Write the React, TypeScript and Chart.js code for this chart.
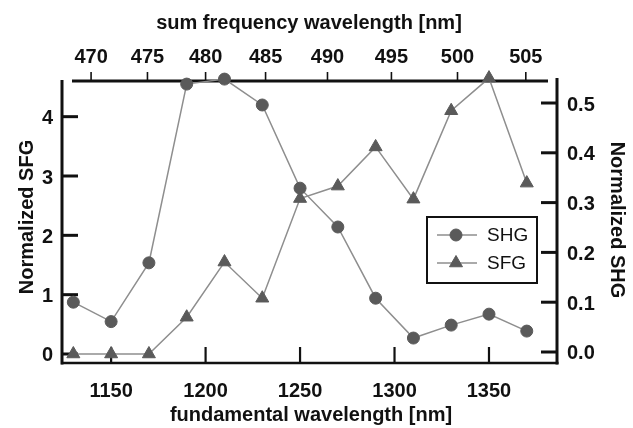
import React, { useEffect, useRef } from "react";
import { Chart, registerables } from "chart.js";

Chart.register(...registerables);

// ---- data ----
const fundamentalWavelengths = [1130, 1150, 1170, 1190, 1210, 1230, 1250, 1270, 1290, 1310, 1330, 1350, 1370];
const shgValues = [0.1, 0.061, 0.179, 0.538, 0.548, 0.496, 0.329, 0.251, 0.108, 0.028, 0.054, 0.076, 0.042];
const sfgValues = [0, 0, 0, 0.62, 1.55, 0.94, 2.62, 2.83, 3.49, 2.61, 4.1, 4.65, 2.88];
const bottomTickLabels = [1150, 1200, 1250, 1300, 1350];
const topTickLabels = [470, 475, 480, 485, 490, 495, 500, 505];
const leftTickLabels = [0, 1, 2, 3, 4];
const rightTickLabels = [0.0, 0.1, 0.2, 0.3, 0.4, 0.5];
const visibleWavelength = 800; // sum frequency: 1/λsf = 1/λf + 1/λvis

const seriesNames = ["SHG", "SFG"];
const xTitle = "fundamental wavelength [nm]";
const topTitle = "sum frequency wavelength [nm]";
const leftTitle = "Normalized SFG";
const rightTitle = "Normalized SHG";

const FONT = '"Liberation Sans", Arial, Helvetica, sans-serif';
const MARKER = "#5a5a5a";
const LINE = "#8e8e8e";
const INK = "#111111";

const fundamentalFromSum = (sf: number) => 1 / (1 / sf - 1 / visibleWavelength);

const axesPlugin = {
  id: "customAxes",
  beforeDatasetsDraw(chart: any) {
    const { ctx, chartArea: a, scales } = chart;
    const x = scales.x;
    const yL = scales.y;
    const yR = scales.y2;
    const seg = (x1: number, y1: number, x2: number, y2: number, w: number) => {
      ctx.beginPath();
      ctx.lineWidth = w;
      ctx.moveTo(x1, y1);
      ctx.lineTo(x2, y2);
      ctx.stroke();
    };
    ctx.save();
    ctx.strokeStyle = INK;
    ctx.fillStyle = INK;
    ctx.lineCap = "butt";
    // frame lines
    seg(a.left, a.top, a.left, a.bottom + 1.5, 3);
    seg(a.left - 1, a.bottom, a.right + 1.5, a.bottom, 2.5);
    seg(a.right, a.top - 2, a.right, a.bottom + 1.5, 3);
    // top axis line (offset)
    const topY = a.top + 1;
    seg(a.left + 10, topY, a.right - 9, topY, 3);

    // left ticks
    ctx.font = `bold 20px ${FONT}`;
    ctx.textBaseline = "alphabetic";
    ctx.textAlign = "right";
    leftTickLabels.forEach((v) => {
      const py = yL.getPixelForValue(v);
      seg(a.left, py, a.left + 16, py, 3);
      ctx.fillText(String(v), 53, py + 7.5);
    });
    // right ticks
    ctx.textAlign = "left";
    rightTickLabels.forEach((v) => {
      const py = yR.getPixelForValue(v);
      seg(a.right - 16, py, a.right, py, 3);
      ctx.fillText(v.toFixed(1), 567, py + 7.5);
    });
    // bottom ticks
    ctx.textAlign = "center";
    bottomTickLabels.forEach((v) => {
      const px = x.getPixelForValue(v);
      seg(px, a.bottom, px, a.bottom - 16, 2.2);
      ctx.fillText(String(v), px, 397);
    });
    // top ticks (nonlinear sum-frequency axis)
    topTickLabels.forEach((v) => {
      const px = x.getPixelForValue(fundamentalFromSum(v));
      seg(px, topY, px, topY - 9, 1.6);
      ctx.fillText(String(v), px, 63);
    });
    // titles
    ctx.fillText(xTitle, 311, 421);
    ctx.fillText(topTitle, 309, 29);
    ctx.save();
    ctx.translate(27, 217);
    ctx.rotate(-Math.PI / 2);
    ctx.textBaseline = "middle";
    ctx.fillText(leftTitle, 0, 0);
    ctx.restore();
    ctx.save();
    ctx.translate(617, 220);
    ctx.rotate(Math.PI / 2);
    ctx.textBaseline = "middle";
    ctx.fillText(rightTitle, 0, 0);
    ctx.restore();
    ctx.restore();
  },
  afterDraw(chart: any) {
    const { ctx } = chart;
    ctx.save();
    // legend box
    const bx = 427, by = 217, bw = 110, bh = 66;
    ctx.fillStyle = "#ffffff";
    ctx.fillRect(bx, by, bw, bh);
    ctx.strokeStyle = INK;
    ctx.lineWidth = 2;
    ctx.strokeRect(bx, by, bw, bh);
    const rows = [235, 263];
    rows.forEach((ry, i) => {
      ctx.strokeStyle = LINE;
      ctx.lineWidth = 1.5;
      ctx.beginPath();
      ctx.moveTo(437, ry);
      ctx.lineTo(477, ry);
      ctx.stroke();
      ctx.fillStyle = MARKER;
      ctx.strokeStyle = MARKER;
      ctx.lineWidth = 1;
      const cx = 456;
      ctx.beginPath();
      if (i === 0) {
        ctx.arc(cx, ry, 6, 0, Math.PI * 2);
      } else {
        const r = 7.5;
        let rad = 0;
        ctx.moveTo(cx + Math.sin(rad) * r, ry - Math.cos(rad) * r);
        rad += (2 * Math.PI) / 3;
        ctx.lineTo(cx + Math.sin(rad) * r, ry - Math.cos(rad) * r);
        rad += (2 * Math.PI) / 3;
        ctx.lineTo(cx + Math.sin(rad) * r, ry - Math.cos(rad) * r);
        ctx.closePath();
      }
      ctx.fill();
      ctx.stroke();
      ctx.fillStyle = INK;
      ctx.font = `19px ${FONT}`;
      ctx.textAlign = "left";
      ctx.textBaseline = "middle";
      ctx.fillText(seriesNames[i], 487, ry + 1);
    });
    ctx.restore();
  },
};

export default function App() {
  const canvasRef = useRef<HTMLCanvasElement | null>(null);

  useEffect(() => {
    const canvas = canvasRef.current;
    if (!canvas) return;
    const chart = new Chart(canvas, {
      type: "line",
      data: {
        labels: fundamentalWavelengths,
        datasets: [
          {
            label: seriesNames[0],
            data: fundamentalWavelengths.map((w, i) => ({ x: w, y: shgValues[i] })),
            yAxisID: "y2",
            borderColor: LINE,
            borderWidth: 1.5,
            pointStyle: "circle",
            pointRadius: 6,
            pointBackgroundColor: MARKER,
            pointBorderColor: MARKER,
            pointBorderWidth: 1,
            tension: 0,
            clip: false as any,
          },
          {
            label: seriesNames[1],
            data: fundamentalWavelengths.map((w, i) => ({ x: w, y: sfgValues[i] })),
            yAxisID: "y",
            borderColor: LINE,
            borderWidth: 1.5,
            pointStyle: "triangle",
            pointRadius: 7.5,
            pointBackgroundColor: MARKER,
            pointBorderColor: MARKER,
            pointBorderWidth: 1,
            tension: 0,
            clip: false as any,
          },
        ],
      },
      options: {
        responsive: false,
        animation: false,
        devicePixelRatio: 1,
        layout: { padding: { left: 62, right: 76, top: 80, bottom: 65 } },
        plugins: { legend: { display: false }, tooltip: { enabled: false } },
        scales: {
          x: { type: "linear", min: 1124, max: 1386, display: false },
          y: { type: "linear", position: "left", min: -0.1517, max: 4.618, display: false },
          y2: { type: "linear", position: "right", min: -0.0221, max: 0.5462, display: false },
        },
      },
      plugins: [axesPlugin],
    });
    return () => chart.destroy();
  }, []);

  return (
    <div style={{ position: "fixed", left: 0, top: 0, width: 633, height: 428, background: "#ffffff" }}>
      <canvas ref={canvasRef} width={633} height={428} style={{ width: 633, height: 428, display: "block" }} />
    </div>
  );
}
